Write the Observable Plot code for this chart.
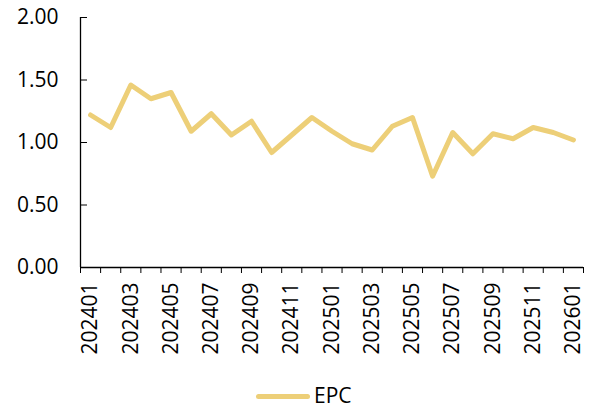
<!DOCTYPE html>
<html>
<head>
<meta charset="utf-8">
<script src="https://cdn.jsdelivr.net/npm/d3@7"></script>
<script src="https://cdn.jsdelivr.net/npm/@observablehq/plot@0.6"></script>
<style>
  html, body { margin: 0; padding: 0; background: #fff; }
  #wrap { width: 594px; height: 410px; position: relative; font-family: "Open Sans", sans-serif; }
  #legend { position: absolute; left: 0; top: 372px; width: 594px; height: 38px; }
  #legend .sw { position: absolute; left: 256px; top: 22px; width: 54px; height: 5px; border-radius: 3px; background: #EDCF78; }
  #legend .lb { position: absolute; left: 314px; top: 9px; font-size: 21px; line-height: 28px; color: #000; }
</style>
</head>
<body>
<div id="wrap"><div id="chart"></div><div id="legend"><span class="sw"></span><span class="lb">EPC</span></div></div>
<script>
const months = ["202401","202402","202403","202404","202405","202406","202407","202408","202409","202410","202411","202412",
                "202501","202502","202503","202504","202505","202506","202507","202508","202509","202510","202511","202512","202601"];
const epc = [1.22,1.12,1.46,1.35,1.40,1.09,1.23,1.06,1.17,0.92,1.06,1.20,
             1.09,0.99,0.94,1.13,1.20,0.73,1.08,0.91,1.07,1.03,1.12,1.08,1.02];
const yTicks = [0, 0.5, 1, 1.5, 2];
const seriesName = "EPC";

const rows = months.map((m, i) => ({i, pos: i + 0.5, month: m, value: epc[i]}));
const boundaries = d3.range(months.length + 1);
const labelRows = rows.filter(d => d.i % 2 === 0);
const labelMap = new Map(labelRows.map(d => [d.pos, d.month]));

const plot = Plot.plot({
  width: 594,
  height: 372,
  marginLeft: 80,
  marginRight: 11,
  marginTop: 17,
  marginBottom: 105,
  style: {fontFamily: "Open Sans, sans-serif", fontSize: "21px", color: "#000", background: "#fff"},
  x: {type: "linear", domain: [0, months.length], axis: null},
  y: {domain: [0, 2], axis: null},
  marks: [
    Plot.axisY(yTicks, {label: null, tickSize: 7, dx: 7, tickFormat: () => "", stroke: "#000"}),
    Plot.axisY(yTicks, {label: null, tickSize: 0, tickPadding: 22, tickFormat: d => d.toFixed(2), fill: "#000", fontSize: 21}),
    Plot.axisX(boundaries, {label: null, tickSize: 6, tickFormat: () => "", stroke: "#000"}),
    Plot.axisX(labelRows.map(d => d.pos), {label: null, tickSize: 0, tickPadding: 15, tickRotate: -90, tickFormat: d => labelMap.get(d), fill: "#000", fontSize: 21}),
    Plot.ruleX([0], {y1: 0, y2: 2, stroke: "#000", strokeWidth: 1.3}),
    Plot.ruleY([0], {stroke: "#000", strokeWidth: 1.3}),
    Plot.line(rows, {x: "pos", y: "value", stroke: "#EDCF78", strokeWidth: 5, strokeLinejoin: "round", strokeLinecap: "round"})
  ]
});
document.getElementById("chart").appendChild(plot);
</script>
</body>
</html>
